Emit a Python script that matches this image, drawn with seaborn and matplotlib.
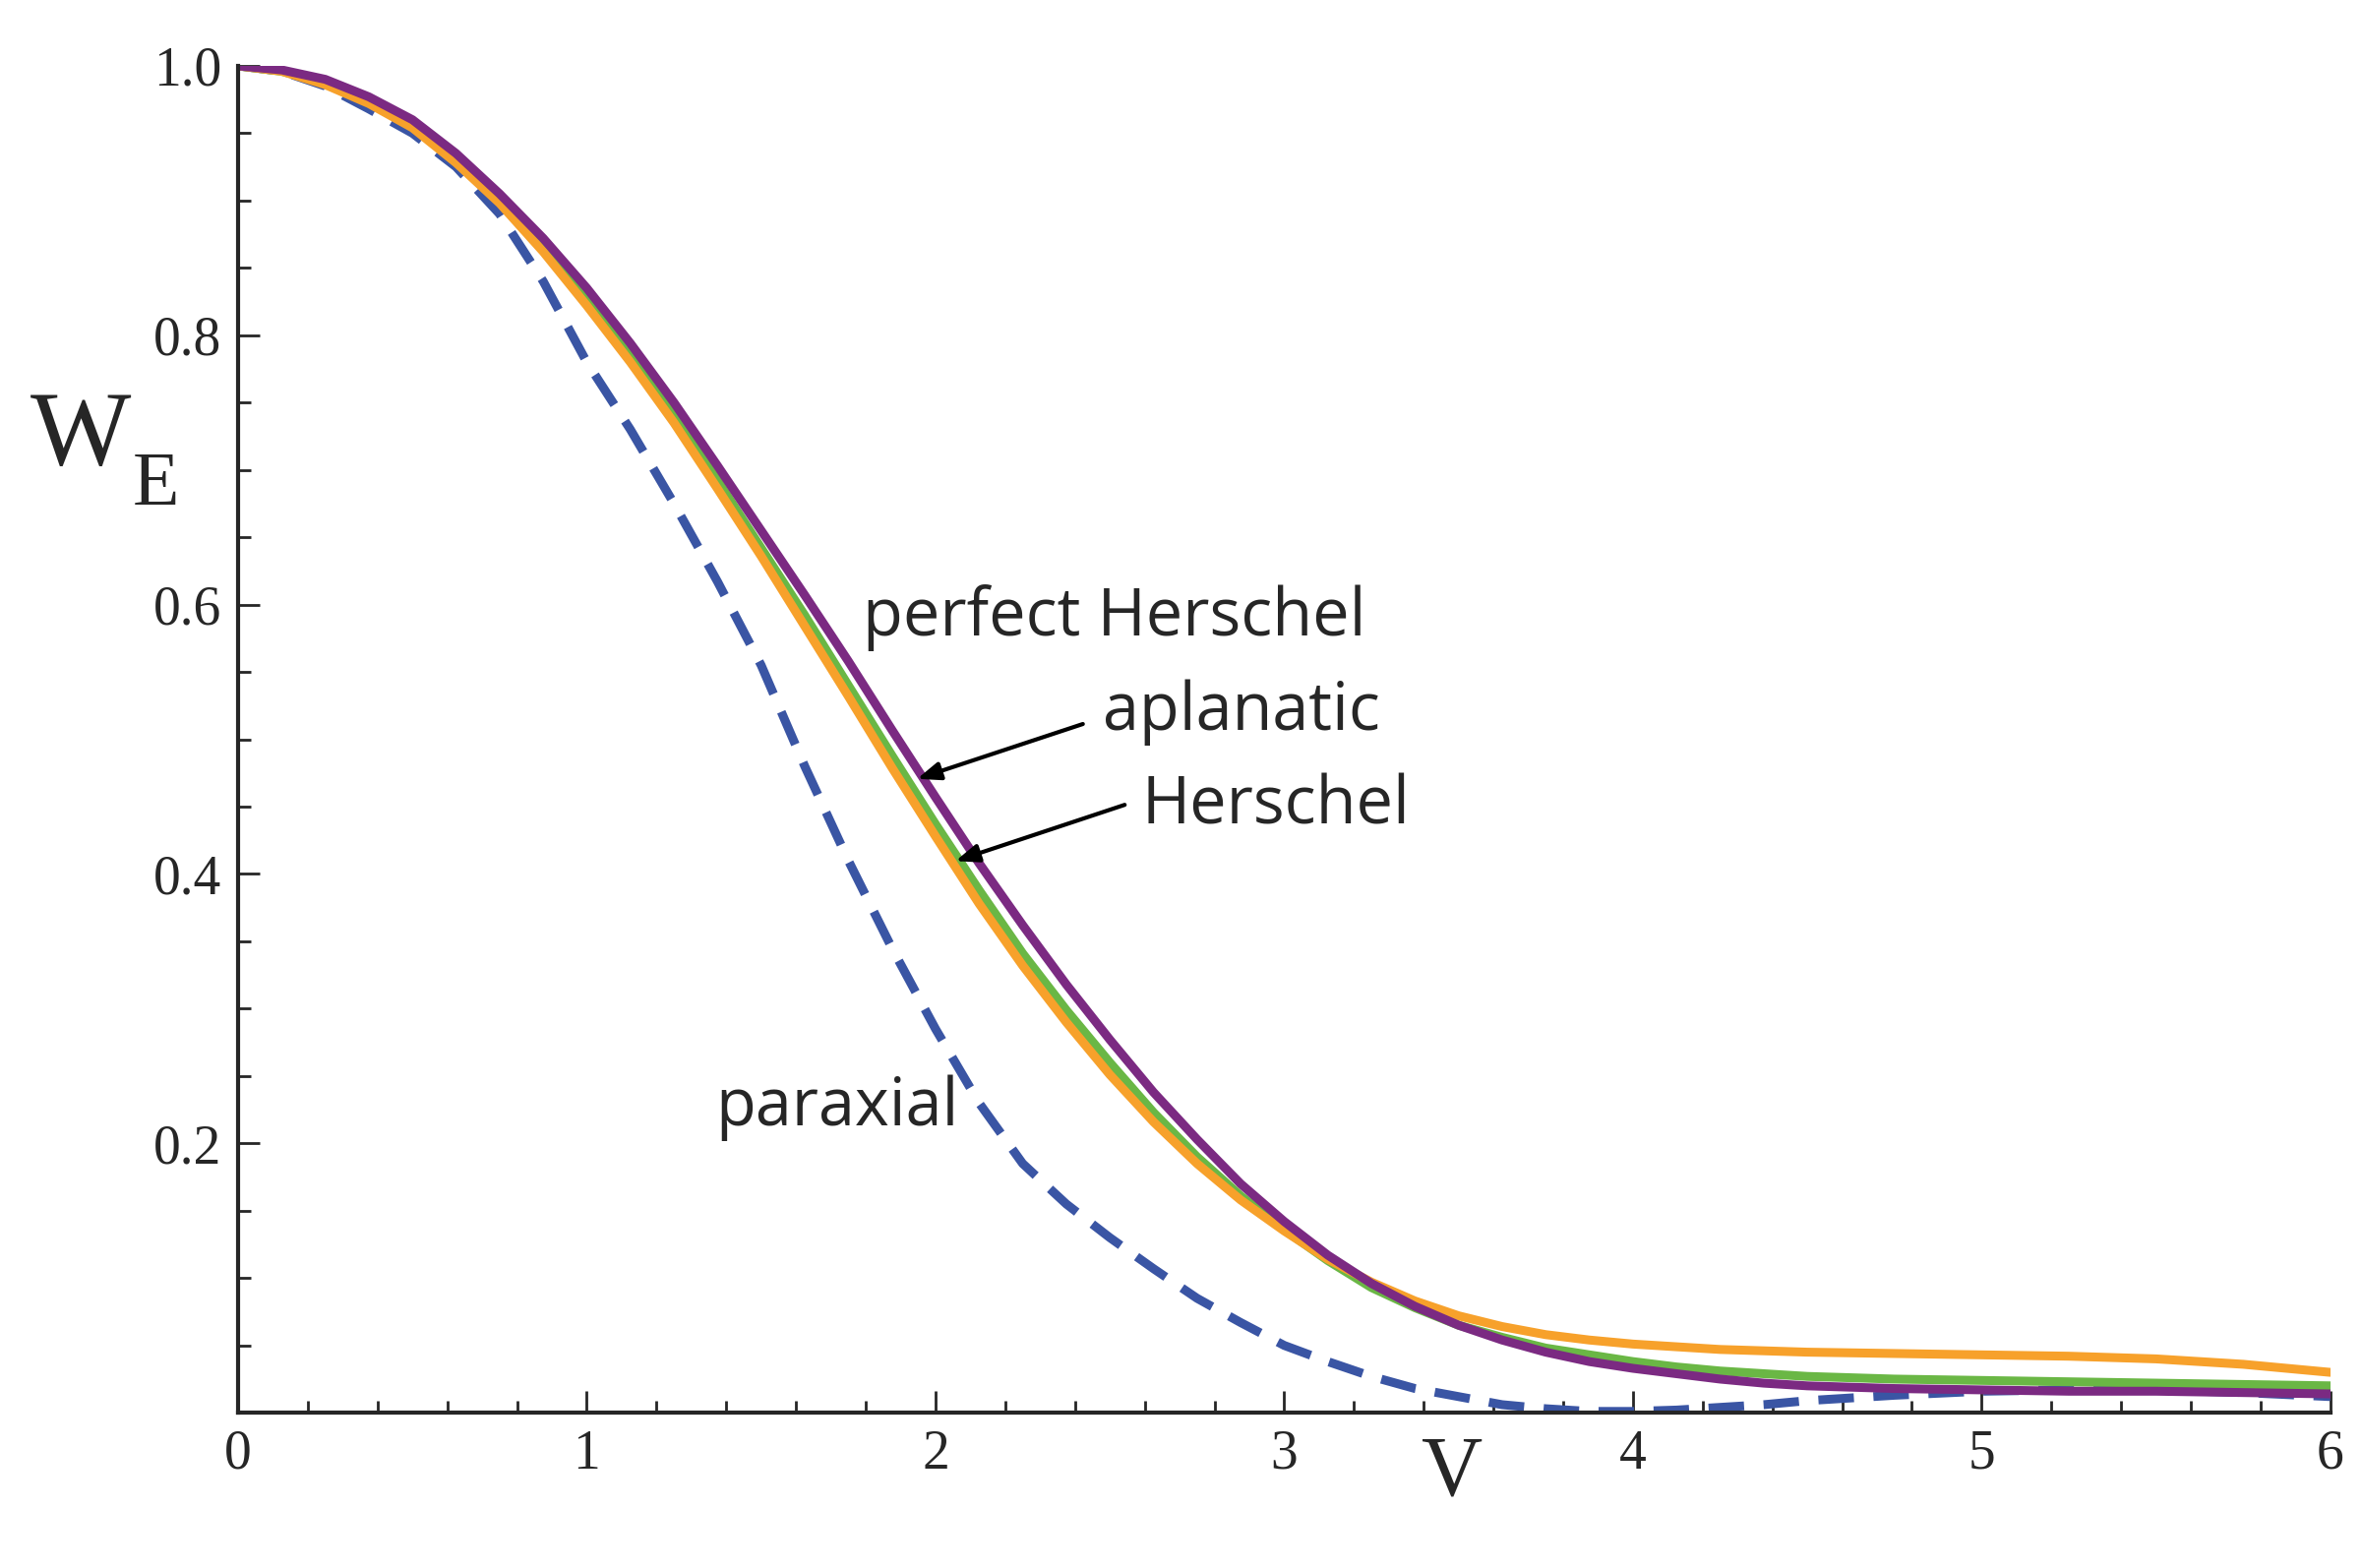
import matplotlib
matplotlib.use('Agg')
import matplotlib.pyplot as plt
import seaborn as sns
import pandas as pd
from matplotlib.ticker import MultipleLocator, FixedLocator

v = [0, .125, .25, .375, .5, .625, .75, .875, 1, 1.125, 1.25, 1.375, 1.5, 1.625,
     1.75, 1.875, 2, 2.125, 2.25, 2.375, 2.5, 2.625, 2.75, 2.875, 3, 3.125, 3.25,
     3.375, 3.5, 3.625, 3.75, 3.875, 4, 4.125, 4.25, 4.375, 4.5,
     4.75, 5, 5.25, 5.5, 5.75, 6]
paraxial = [1, .996, .985, .968, .95, .925, .89, .84, .78, .73, .675, .617, .555,
            .48, .41, .345, .285, .23, .185, .155, .13, .107, .085, .067, .05, .038,
            .027, .018, .012, .006, .003, .001, .001, .002, .004, .006, .009,
            .013, .016, .017, .017, .015, .012]
perfect_herschel = [1, .997, .99, .977, .96, .935, .905, .872, .835, .794, .75, .703,
                    .655, .607, .558, .507, .457, .408, .362, .318, .277, .238, .203,
                    .17, .142, .117, .096, .079, .065, .054, .045, .038, .033, .029,
                    .025, .022, .02,
                    .018, .017, .016, .016, .015, .014]
aplanatic = [1, .996, .987, .973, .955, .93, .9, .865, .826, .784, .74, .692, .642,
             .592, .54, .488, .437, .388, .341, .299, .26, .223, .19, .161, .136,
             .113, .093, .078, .065, .056, .048, .043, .038, .034, .031, .029, .027,
             .025, .024, .023, .022, .021, .02]
herschel = [1, .996, .986, .972, .954, .928, .898, .862, .822, .78, .735, .686, .636,
            .584, .532, .479, .428, .378, .332, .29, .251, .216, .185, .158, .135,
            .114, .097, .083, .072, .064, .058, .054, .051, .049, .047, .046, .045,
            .044, .043, .042, .04, .036, .03]

df = pd.DataFrame({'v': v, 'paraxial': paraxial, 'aplanatic': aplanatic,
                   'herschel': herschel, 'perfect': perfect_herschel})

sns.set_style('ticks')
plt.rcParams['font.family'] = ['Liberation Serif', 'DejaVu Serif']

fig = plt.figure(figsize=(24.01, 15.94), dpi=100)
ax = fig.add_axes([0.1008, 0.099, 0.8858, 0.859])

lw = 6.5
sns.lineplot(data=df, x='v', y='paraxial', ax=ax, color='#3a55a4', lw=lw)
ax.lines[-1].set_dashes([4, 2.2])
sns.lineplot(data=df, x='v', y='aplanatic', ax=ax, color='#6ab745', lw=lw)
sns.lineplot(data=df, x='v', y='herschel', ax=ax, color='#f7a12b', lw=lw)
sns.lineplot(data=df, x='v', y='perfect', ax=ax, color='#7b2a82', lw=lw)
for ln in ax.lines:
    ln.set_solid_joinstyle('round')

ax.set_xlim(0, 6)
ax.set_ylim(0, 1.0)
sns.despine(ax=ax)
for s in ['left', 'bottom']:
    ax.spines[s].set_linewidth(3)
ax.xaxis.set_major_locator(MultipleLocator(1))
ax.xaxis.set_minor_locator(MultipleLocator(0.2))
ax.yaxis.set_major_locator(FixedLocator([0.2, 0.4, 0.6, 0.8, 1.0]))
ax.yaxis.set_minor_locator(MultipleLocator(0.05))
ax.tick_params(which='both', direction='in', width=2, labelsize=40, pad=12)
ax.tick_params(which='major', length=16)
ax.tick_params(which='minor', length=9)
ax.set_yticklabels(['0.2', '0.4', '0.6', '0.8', '1.0'])

ax.set_xlabel('')
ax.set_ylabel('')
fig.text(0.615, 0.035, 'V', fontsize=62, ha='center', va='bottom')
fig.text(0.013, 0.72, 'W', fontsize=78, ha='left', va='center')
fig.text(0.056, 0.69, 'E', fontsize=56, ha='left', va='center')

lab = dict(fontsize=48, family=['Open Sans', 'DejaVu Sans'], va='center', ha='left')
ax.text(1.79, 0.59, 'perfect Herschel', **lab)
ax.text(2.48, 0.52, 'aplanatic', **lab)
ax.text(2.59, 0.45, 'Herschel', **lab)
ax.text(1.37, 0.226, 'paraxial', **lab)

arrow = dict(arrowstyle='-|>,head_length=1.4,head_width=0.55', color='black', lw=3)
ax.annotate('', xy=(1.94, 0.470), xytext=(2.43, 0.512), arrowprops=arrow)
ax.annotate('', xy=(2.05, 0.409), xytext=(2.55, 0.452), arrowprops=arrow)

fig.savefig('out.png', dpi=100)
